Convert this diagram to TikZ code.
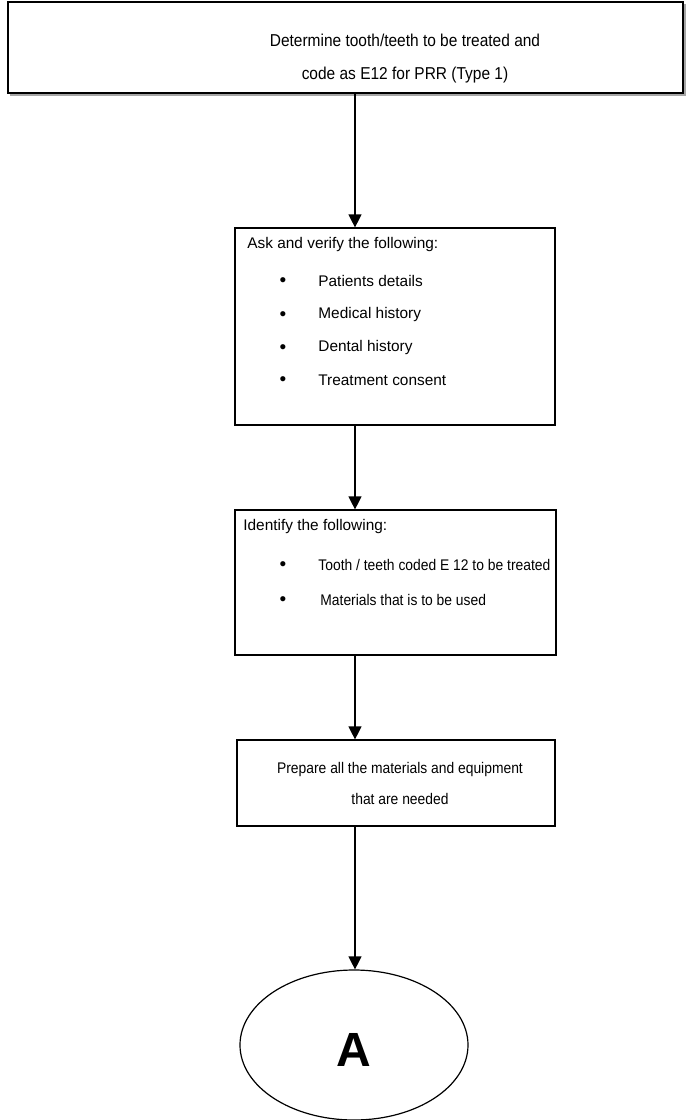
\documentclass[tikz,border=0pt]{standalone}
\usepackage{fontspec}
\setmainfont{Liberation Sans}
\newfontfamily\condfont[FakeStretch=0.9]{Liberation Sans}
\usetikzlibrary{arrows.meta,shapes.geometric}
\begin{document}
\begin{tikzpicture}[x=0.5pt,y=-0.5pt,
  box/.style={draw=black,line width=0.6pt,rectangle,inner sep=0pt},
  topbox/.style={draw=black,line width=0.75pt,rectangle,inner sep=0pt},
  txt/.style={inner sep=0pt,font=\fontsize{7.7}{15}\selectfont},
  ctxt/.style={inner sep=0pt,font=\condfont\fontsize{7.7}{15}\selectfont},
  arr/.style={draw=black,line width=0.6pt,-{Triangle[length=6.5pt,width=6.5pt]}},
  bul/.style={inner sep=0pt,font=\fontsize{9.5}{15}\selectfont}]
\useasboundingbox (0,0) rectangle (695,1120);
% shadow of first box
\draw[gray!70,line width=0.6pt] (10,95) -- (685,95) -- (685,4);
% boxes
\node[topbox,minimum width=337.5pt,minimum height=45.5pt] (b1) at (345.5,47.5) {};
\node[box,minimum width=160pt,minimum height=98.5pt] (b2) at (395,326.5) {};
\node[box,minimum width=160.5pt,minimum height=72.5pt] (b3) at (395.5,582.5) {};
\node[box,minimum width=159pt,minimum height=43pt] (b4) at (396,783) {};
\node[draw=black,line width=0.6pt,ellipse,minimum width=114pt,minimum height=75pt,inner sep=0pt] (e) at (354,1045) {};
\coordinate (ax) at (355,0);
% box 1 text
\node[inner sep=0pt,align=center,font=\condfont\fontsize{8.6}{16.5}\selectfont] (t1) at (405,58.5) {Determine tooth/teeth to be treated and\\code as E12 for PRR (Type 1)};
% box 2 text
\node[txt,anchor=west] (h2) at (247,245) {Ask and verify the following:};
\node[bul] (p1) at (283,282) {•};
\node[bul] (p2) at (283,316) {•};
\node[bul] (p3) at (283,349) {•};
\node[bul] (p4) at (283,381) {•};
\node[txt,anchor=west] (i1) at (318,281) {Patients details};
\node[txt,anchor=west] (i2) at (318,315) {Medical history};
\node[txt,anchor=west] (i3) at (318,348) {Dental history};
\node[txt,anchor=west] (i4) at (318,380) {Treatment consent};
% box 3 text
\node[txt,anchor=west] (h3) at (243,527) {Identify the following:};
\node[bul] (q1) at (283,566) {•};
\node[bul] (q2) at (283,601) {•};
\node[ctxt,anchor=west] (j1) at (318,565) {Tooth / teeth coded E 12 to be treated};
\node[ctxt,anchor=west] (j2) at (320,600) {Materials that is to be used};
% box 4 text
\node[ctxt,align=center,font=\condfont\fontsize{7.7}{15.5}\selectfont] (t4) at (400,783.5) {Prepare all the materials and equipment\\that are needed};
% ellipse text
\node[inner sep=0pt,font=\fontsize{24}{26}\bfseries\selectfont] (ta) at (354,1050) {A};
% arrows
\draw[arr] (b1.south -| ax) -- (b2.north -| ax);
\draw[arr] (b2.south -| ax) -- (b3.north -| ax);
\draw[arr] (b3.south -| ax) -- (b4.north -| ax);
\draw[arr] (b4.south -| ax) -- (e.north -| ax);
\end{tikzpicture}
\end{document}
